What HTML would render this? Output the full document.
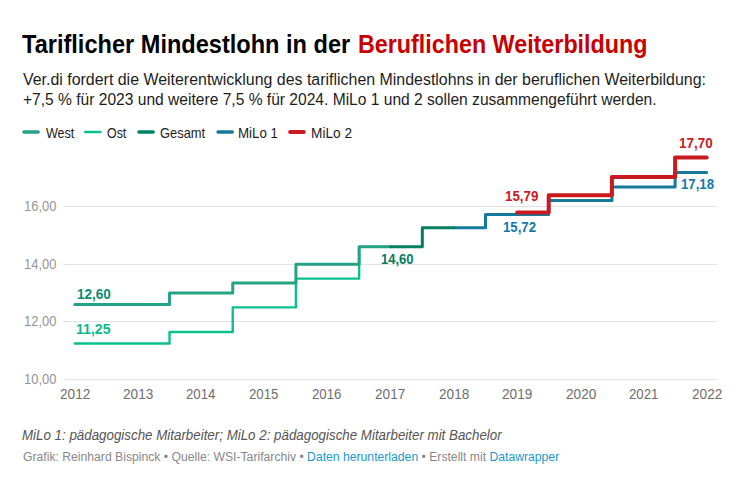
<!DOCTYPE html>
<html><head><meta charset="utf-8">
<style>
html,body{margin:0;padding:0;background:#fff;}
body{width:748px;height:481px;position:relative;overflow:hidden;font-family:"Liberation Sans",sans-serif;}
.t{position:absolute;white-space:nowrap;}
</style></head><body>
<svg width="748" height="481" style="position:absolute;left:0;top:0">
<line x1="64" x2="717" y1="379.5" y2="379.5" stroke="#e3e3e3" stroke-width="1"/>
<line x1="64" x2="717" y1="321.5" y2="321.5" stroke="#e3e3e3" stroke-width="1"/>
<line x1="64" x2="717" y1="264.5" y2="264.5" stroke="#e3e3e3" stroke-width="1"/>
<line x1="64" x2="717" y1="206.5" y2="206.5" stroke="#e3e3e3" stroke-width="1"/>
<path d="M74.75,343.46 H169.54 V331.93 H232.74 V307.42 H295.93 V278.58 H359.13 V246.87 H390.73" fill="none" stroke="#0ac08c" stroke-width="2.4" stroke-linecap="round" stroke-linejoin="round"/>
<path d="M74.75,304.53 H169.54 V293.00 H232.74 V282.91 H295.93 V264.17 H359.13 V246.87 H390.73" fill="none" stroke="#25a386" stroke-width="3" stroke-linecap="round" stroke-linejoin="round"/>
<path d="M453.92,227.84 H485.52 V214.58 H548.71 V200.45 H611.91 V186.90 H675.10 V172.48 H706.70" fill="none" stroke="#15799b" stroke-width="3" stroke-linecap="round" stroke-linejoin="round"/>
<path d="M390.73,246.87 H422.32 V227.84 H453.92" fill="none" stroke="#007f62" stroke-width="3" stroke-linecap="round" stroke-linejoin="round"/>
<path d="M517.12,212.56 H548.71 V195.26 H611.91 V177.09 H675.10 V157.49 H706.70" fill="none" stroke="#c91a1f" stroke-width="4" stroke-linecap="round" stroke-linejoin="round"/>
<line x1="23.95" x2="38.15" y1="132" y2="132" stroke="#25a386" stroke-width="3.5" stroke-linecap="round"/>
<line x1="85.25" x2="100.45" y1="132" y2="132" stroke="#0ac08c" stroke-width="2.5" stroke-linecap="round"/>
<line x1="138.95" x2="153.15" y1="132" y2="132" stroke="#007f62" stroke-width="3.5" stroke-linecap="round"/>
<line x1="218.05" x2="232.25" y1="132" y2="132" stroke="#15799b" stroke-width="3.5" stroke-linecap="round"/>
<line x1="290.10" x2="303.80" y1="132" y2="132" stroke="#c91a1f" stroke-width="4" stroke-linecap="round"/>
</svg>
<div class="t" style="left:22.19px;top:31.74px;font-size:25px;line-height:25px;color:#000;font-weight:bold;font-style:normal;transform:scaleX(0.9427);transform-origin:0 0">Tariflicher Mindestlohn in der</div>
<div class="t" style="left:357.98px;top:31.74px;font-size:25px;line-height:25px;color:#c80000;font-weight:bold;font-style:normal;transform:scaleX(0.9318);transform-origin:0 0">Beruflichen Weiterbildung</div>
<div class="t" style="left:22.70px;top:72.36px;font-size:16px;line-height:16px;color:#1d1d1d;font-weight:normal;font-style:normal;transform:scaleX(0.9956);transform-origin:0 0">Ver.di fordert die Weiterentwicklung des tariflichen Mindestlohns in der beruflichen Weiterbildung:</div>
<div class="t" style="left:22.71px;top:91.96px;font-size:16px;line-height:16px;color:#1d1d1d;font-weight:normal;font-style:normal;transform:scaleX(0.9738);transform-origin:0 0">+7,5 % für 2023 und weitere 7,5 % für 2024. MiLo 1 und 2 sollen zusammengeführt werden.</div>
<div class="t" style="left:45.54px;top:126.20px;font-size:14.3px;line-height:14.3px;color:#1d1d1d;font-weight:normal;font-style:normal;transform:scaleX(0.8769);transform-origin:0 0">West</div>
<div class="t" style="left:107.23px;top:126.20px;font-size:14.3px;line-height:14.3px;color:#1d1d1d;font-weight:normal;font-style:normal;transform:scaleX(0.8667);transform-origin:0 0">Ost</div>
<div class="t" style="left:159.66px;top:126.20px;font-size:14.3px;line-height:14.3px;color:#1d1d1d;font-weight:normal;font-style:normal;transform:scaleX(0.9024);transform-origin:0 0">Gesamt</div>
<div class="t" style="left:238.07px;top:126.20px;font-size:14.3px;line-height:14.3px;color:#1d1d1d;font-weight:normal;font-style:normal;transform:scaleX(0.9315);transform-origin:0 0">MiLo 1</div>
<div class="t" style="left:310.75px;top:126.20px;font-size:14.3px;line-height:14.3px;color:#1d1d1d;font-weight:normal;font-style:normal;transform:scaleX(0.9566);transform-origin:0 0">MiLo 2</div>
<div class="t" style="left:23.99px;top:198.95px;font-size:14px;line-height:14px;color:#969696;font-weight:normal;font-style:normal;transform:scaleX(0.9244);transform-origin:0 0">16,00</div>
<div class="t" style="left:23.99px;top:256.62px;font-size:14px;line-height:14px;color:#969696;font-weight:normal;font-style:normal;transform:scaleX(0.9244);transform-origin:0 0">14,00</div>
<div class="t" style="left:23.99px;top:314.28px;font-size:14px;line-height:14px;color:#969696;font-weight:normal;font-style:normal;transform:scaleX(0.9244);transform-origin:0 0">12,00</div>
<div class="t" style="left:23.99px;top:371.95px;font-size:14px;line-height:14px;color:#969696;font-weight:normal;font-style:normal;transform:scaleX(0.9244);transform-origin:0 0">10,00</div>
<div class="t" style="left:59.70px;top:387.30px;font-size:14.3px;line-height:14.3px;color:#6e6e6e;font-weight:normal;font-style:normal;transform:scaleX(0.9513);transform-origin:0 0">2012</div>
<div class="t" style="left:122.85px;top:387.30px;font-size:14.3px;line-height:14.3px;color:#6e6e6e;font-weight:normal;font-style:normal;transform:scaleX(0.9513);transform-origin:0 0">2013</div>
<div class="t" style="left:186.04px;top:387.30px;font-size:14.3px;line-height:14.3px;color:#6e6e6e;font-weight:normal;font-style:normal;transform:scaleX(0.9225);transform-origin:0 0">2014</div>
<div class="t" style="left:249.09px;top:387.30px;font-size:14.3px;line-height:14.3px;color:#6e6e6e;font-weight:normal;font-style:normal;transform:scaleX(0.9246);transform-origin:0 0">2015</div>
<div class="t" style="left:312.23px;top:387.30px;font-size:14.3px;line-height:14.3px;color:#6e6e6e;font-weight:normal;font-style:normal;transform:scaleX(0.9246);transform-origin:0 0">2016</div>
<div class="t" style="left:375.42px;top:387.30px;font-size:14.3px;line-height:14.3px;color:#6e6e6e;font-weight:normal;font-style:normal;transform:scaleX(0.9513);transform-origin:0 0">2017</div>
<div class="t" style="left:438.61px;top:387.30px;font-size:14.3px;line-height:14.3px;color:#6e6e6e;font-weight:normal;font-style:normal;transform:scaleX(0.9513);transform-origin:0 0">2018</div>
<div class="t" style="left:501.68px;top:387.30px;font-size:14.3px;line-height:14.3px;color:#6e6e6e;font-weight:normal;font-style:normal;transform:scaleX(0.9513);transform-origin:0 0">2019</div>
<div class="t" style="left:565.84px;top:387.30px;font-size:14.3px;line-height:14.3px;color:#6e6e6e;font-weight:normal;font-style:normal;transform:scaleX(0.9513);transform-origin:0 0">2020</div>
<div class="t" style="left:628.97px;top:387.30px;font-size:14.3px;line-height:14.3px;color:#6e6e6e;font-weight:normal;font-style:normal;transform:scaleX(0.9246);transform-origin:0 0">2021</div>
<div class="t" style="left:692.16px;top:387.30px;font-size:14.3px;line-height:14.3px;color:#6e6e6e;font-weight:normal;font-style:normal;transform:scaleX(0.9513);transform-origin:0 0">2022</div>
<div class="t" style="left:76.88px;top:287.03px;font-size:14.5px;line-height:14.5px;color:#0e8a74;font-weight:bold;font-style:normal;transform:scaleX(0.9340);transform-origin:0 0">12,60</div>
<div class="t" style="left:75.93px;top:322.23px;font-size:14.5px;line-height:14.5px;color:#0cb98a;font-weight:bold;font-style:normal;transform:scaleX(0.9721);transform-origin:0 0">11,25</div>
<div class="t" style="left:380.97px;top:252.23px;font-size:14.5px;line-height:14.5px;color:#067a62;font-weight:bold;font-style:normal;transform:scaleX(0.8939);transform-origin:0 0">14,60</div>
<div class="t" style="left:503.33px;top:220.13px;font-size:14.5px;line-height:14.5px;color:#1279a6;font-weight:bold;font-style:normal;transform:scaleX(0.9102);transform-origin:0 0">15,72</div>
<div class="t" style="left:504.79px;top:189.33px;font-size:14.5px;line-height:14.5px;color:#cc1820;font-weight:bold;font-style:normal;transform:scaleX(0.9210);transform-origin:0 0">15,79</div>
<div class="t" style="left:679.19px;top:136.23px;font-size:14.5px;line-height:14.5px;color:#cc1820;font-weight:bold;font-style:normal;transform:scaleX(0.9287);transform-origin:0 0">17,70</div>
<div class="t" style="left:681.42px;top:177.13px;font-size:14.5px;line-height:14.5px;color:#1279a6;font-weight:bold;font-style:normal;transform:scaleX(0.9115);transform-origin:0 0">17,18</div>
<div class="t" style="left:22.20px;top:428.93px;font-size:13.9px;line-height:13.9px;color:#555;font-weight:normal;font-style:italic;transform:scaleX(0.9602);transform-origin:0 0">MiLo 1: pädagogische Mitarbeiter; MiLo 2: pädagogische Mitarbeiter mit Bachelor</div>
<div class="t" style="left:22.69px;top:451.34px;font-size:12px;line-height:12px;color:#888;font-weight:normal;font-style:normal;transform:scaleX(1.0152);transform-origin:0 0">Grafik: Reinhard Bispinck • Quelle: WSI-Tarifarchiv • <span style="color:#1b98d0">Daten herunterladen</span> • Erstellt mit <span style="color:#1b98d0">Datawrapper</span></div>
</body></html>
